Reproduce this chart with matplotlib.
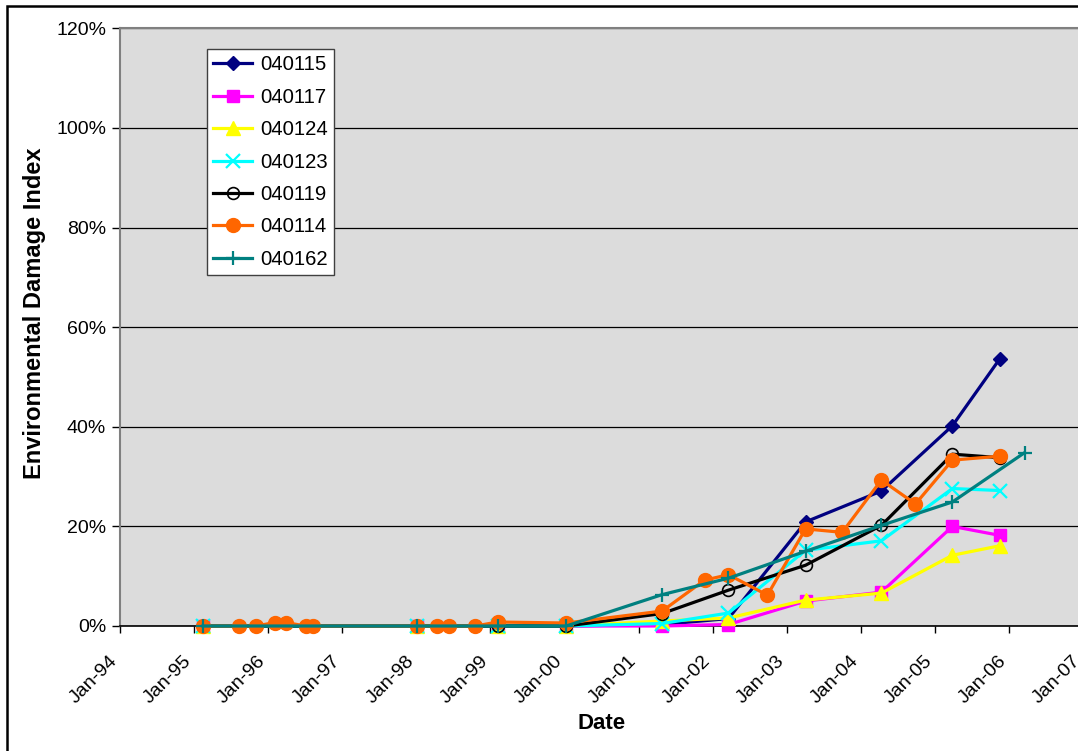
import matplotlib
matplotlib.use("Agg")
import matplotlib.pyplot as plt
import matplotlib.dates as mdates
import matplotlib.transforms as mtransforms
from matplotlib.ticker import PercentFormatter, MultipleLocator
from matplotlib.patches import Rectangle
import pandas as pd

plt.rcParams['font.family'] = ['Liberation Sans', 'DejaVu Sans']

# sampling dates shared by most of the sites
dates_common = ['1995-02-14', '1998-01-02', '1999-02-06', '2000-01-10', '2001-04-27',
                '2002-03-20', '2003-04-04', '2004-04-12', '2005-03-28', '2005-11-16']
dates_040114 = ['1995-02-14', '1995-08-13', '1995-11-03', '1996-02-04', '1996-03-28',
                '1996-07-05', '1996-08-10', '1998-01-02', '1998-04-15', '1998-06-09',
                '1998-10-19', '1999-02-06', '2000-01-10', '2001-04-27', '2001-11-22',
                '2002-03-20', '2002-09-28', '2003-04-04', '2003-10-02', '2004-04-12',
                '2004-09-27', '2005-03-28', '2005-11-16']
dates_040162 = ['1995-02-14', '1998-01-02', '1999-02-06', '2000-01-10', '2001-04-27',
                '2002-03-20', '2003-04-04', '2004-04-12', '2005-03-28', '2006-03-19']

v_040115 = [0, 0, 0, 0, 0.003, 0.015, 0.209, 0.271, 0.402, 0.536]
v_040117 = [0, 0, 0, 0, 0.0, 0.003, 0.050, 0.068, 0.200, 0.182]
v_040124 = [0, 0, 0, 0, 0.010, 0.016, 0.052, 0.066, 0.142, 0.161]
v_040123 = [0, 0, 0, 0, 0.005, 0.026, 0.152, 0.171, 0.276, 0.272]
v_040119 = [0, 0, 0, 0, 0.025, 0.072, 0.122, 0.202, 0.345, 0.338]
v_040114 = [0, 0, 0, 0.007, 0.007, 0, 0, 0, 0, 0,
            0, 0.008, 0.006, 0.030, 0.092, 0.103, 0.062, 0.195, 0.188, 0.293,
            0.245, 0.333, 0.341]
v_040162 = [0, 0, 0, 0, 0.063, 0.096, 0.150, 0.202, 0.249, 0.348]

series = [
    ('040115', dates_common, v_040115, '#000080', 'D', 7.5, '#000080', 1),
    ('040117', dates_common, v_040117, '#ff00ff', 's', 8.5, '#ff00ff', 1),
    ('040124', dates_common, v_040124, '#ffff00', '^', 10, '#ffff00', 1),
    ('040123', dates_common, v_040123, '#00ffff', 'x', 9.5, '#00ffff', 1.6),
    ('040119', dates_common, v_040119, '#000000', 'o', 8.5, 'none', 1.2),
    ('040114', dates_040114, v_040114, '#ff6600', 'o', 10, '#ff6600', 1),
    ('040162', dates_040162, v_040162, '#008080', '+', 10.5, '#008080', 1.6),
]

fig = plt.figure(figsize=(10.78, 7.51), dpi=100)
ax = fig.add_axes([120 / 1078, 1 - 626 / 751, 963 / 1078, (626 - 28.3) / 751])
ax.set_facecolor('#dcdcdc')

for name, d, v, c, m, ms, mfc, mew in series:
    ax.plot(pd.to_datetime(d), v, color=c, lw=2.3, marker=m, ms=ms,
            mfc=mfc, mec=c, mew=mew, label=name, clip_on=False, zorder=3)

ax.set_xlim(pd.Timestamp('1994-01-01'), pd.Timestamp('2007-01-01'))
ax.set_ylim(0, 1.2)
ax.yaxis.set_major_locator(MultipleLocator(0.2))
ax.yaxis.set_major_formatter(PercentFormatter(1.0, decimals=0))
ax.xaxis.set_major_locator(mdates.YearLocator())
ax.xaxis.set_major_formatter(mdates.DateFormatter('%b-%y'))
ax.grid(axis='y', color='black', lw=0.9, zorder=1)
ax.set_axisbelow(True)

ax.tick_params(axis='both', direction='out', labelsize=14, colors='black')
ax.tick_params(axis='y', length=6, width=1, pad=4)
ax.tick_params(axis='x', length=5, width=1, pad=4)
shift = mtransforms.ScaledTranslation(-11 / 100, -14 / 100, fig.dpi_scale_trans)
for lbl in ax.get_xticklabels():
    lbl.set_rotation(45)
    lbl.set_ha('right')
    lbl.set_rotation_mode('anchor')
    lbl.set_transform(lbl.get_transform() + shift)

for s in ['top', 'right', 'left']:
    ax.spines[s].set_color('#808080')
    ax.spines[s].set_linewidth(1.5)
ax.spines['bottom'].set_color('black')
ax.spines['bottom'].set_linewidth(1.2)

ax.set_ylabel('Environmental Damage Index', fontsize=17, fontweight='bold')
ax.yaxis.set_label_coords(-0.077, 0.524)
ax.set_xlabel('Date', fontsize=16, fontweight='bold')
ax.xaxis.set_label_coords(0.5, -0.146)

leg = ax.legend(loc='upper left', bbox_to_anchor=(207 / 1078, 1 - 49 / 751),
                bbox_transform=fig.transFigure, fontsize=14.6, frameon=True,
                fancybox=False, edgecolor='#404040', framealpha=1, borderpad=0.32,
                handlelength=1.9, handletextpad=0.4, labelspacing=0.66,
                borderaxespad=0)
leg.get_frame().set_linewidth(1.0)
leg.set_zorder(5)

# chart border
fig.patches.append(Rectangle((6.5 / 1078, -0.05), 1.1, 1 - 6 / 751 + 0.05,
                             transform=fig.transFigure, fill=False,
                             edgecolor='black', lw=1.8))

fig.savefig('out.png', dpi=100)
